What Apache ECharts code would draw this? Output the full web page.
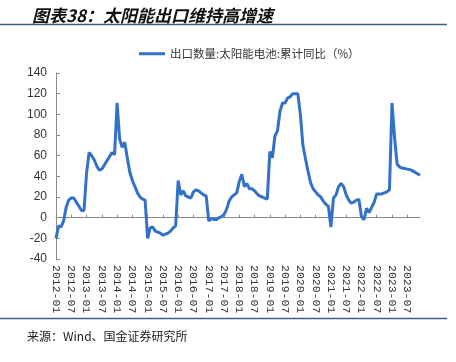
<!DOCTYPE html>
<html><head><meta charset="utf-8">
<script src="https://cdn.jsdelivr.net/npm/echarts/dist/echarts.min.js"></script>
<style>html,body{margin:0;padding:0;background:#fff}#c{width:456px;height:362px}</style>
</head><body><div id="c"></div>
<script>
const titleText = '图表38：太阳能出口维持高增速';
const sourceText = '来源：Wind、国金证券研究所';
const seriesName = '出口数量:太阳能电池:累计同比（%）';
const startYear = 2012, endYear = 2023;
const yTicks = {min: -40, max: 140, interval: 20};

// monthly values, cumulative YoY (%)
const v2012 = [-20, -8, -9, -3, 10, 17, 19, 19, 15, 11, 7, 7];
const v2013 = [43, 63, 60, 56, 50, 46, 47, 51, 55, 59, 63, 61];
const v2014 = [111, 76, 68, 73, 58, 44, 36, 30, 24, 20, 18, 17];
const v2015 = [-20, -10, -9, -13, -14, -15, -17, -16, -15, -13, -10, -8];
const v2016 = [36, 22, 26, 21, 20, 19, 25, 27, 26, 24, 22, 21];
const v2017 = [-3, -1, -1.5, -2, 0, 1, 3, 8, 16, 20, 22, 24];
const v2018 = [35, 42, 30, 33, 28, 28, 26, 23, 21, 20, 19, 18];
const v2019 = [64, 58, 79, 84, 103, 111, 111, 116, 117, 120, 120, 120];
const v2020 = [100, 70, 57, 45, 34, 28, 25, 22, 20, 16, 13, 11];
const v2021 = [-9, 19, 22, 30, 33, 30, 22, 17, 14, 15, 17, 17.5];
const v2022 = [1, -2, 9, 5, 10, 15, 23, 23, 23, 24, 25, 27];
const v2023 = [111, 78, 52, 49, 48, 47.5, 47, 46.5, 45.5, 44, 42.5, 41];

const values = [].concat(v2012, v2013, v2014, v2015, v2016, v2017, v2018, v2019, v2020, v2021, v2022, v2023);
const months = [];
for (let y = startYear; y <= endYear; y++) {
  for (let m = 1; m <= 12; m++) months.push(y + '-' + (m < 10 ? '0' + m : '' + m));
}

const chart = echarts.init(document.getElementById('c'));
const axisColor = '#8a8a8a';
chart.setOption({
  animation: false,
  backgroundColor: '#fff',
  title: {
    text: titleText, left: 27, top: 2,
    textStyle: {fontFamily: 'Noto Sans CJK SC', fontSize: 17, fontWeight: 'bold', fontStyle: 'italic', color: '#111'}
  },
  legend: {
    data: [seriesName], left: 134, top: 43,
    icon: 'rect', itemWidth: 26, itemHeight: 3,
    textStyle: {fontFamily: 'Noto Sans CJK SC', fontSize: 11.5, color: '#333'}
  },
  grid: {left: 56, right: 36, top: 73, bottom: 103},
  xAxis: [
    {
      type: 'category', data: months, boundaryGap: false,
      axisLine: {show: false, onZero: false}, axisTick: {show: false},
      axisLabel: {interval: 5, rotate: -90, margin: 6, fontSize: 11.5, fontFamily: 'Liberation Mono', color: '#333'}
    },
    {
      type: 'category', data: months, boundaryGap: false, position: 'top',
      axisLine: {show: true, onZero: true, lineStyle: {color: axisColor, width: 1}},
      axisTick: {show: true, interval: 5, length: 3, lineStyle: {color: axisColor}},
      axisLabel: {show: false}
    }
  ],
  yAxis: {
    type: 'value', min: yTicks.min, max: yTicks.max, interval: yTicks.interval,
    axisLine: {show: true, lineStyle: {color: axisColor}},
    axisTick: {show: true, inside: true, length: 4, lineStyle: {color: axisColor}},
    splitLine: {show: false},
    axisLabel: {fontSize: 12, fontFamily: 'Liberation Sans', color: '#333', margin: 9}
  },
  series: [{
    name: seriesName, type: 'line', data: values, xAxisIndex: 0,
    showSymbol: false, symbol: 'none',
    lineStyle: {width: 3, color: '#3172C8'}, itemStyle: {color: '#3172C8'}
  }],
  graphic: [
    {type: 'line', shape: {x1: 0, y1: 24.5, x2: 447, y2: 24.5}, style: {stroke: '#3E6085', lineWidth: 1.5}},
    {type: 'line', shape: {x1: 0, y1: 318.5, x2: 447, y2: 318.5}, style: {stroke: '#3E6085', lineWidth: 1.5}},
    {type: 'text', left: 27, top: 330, style: {text: sourceText, font: '12px "Noto Sans CJK SC"', fill: '#222'}}
  ]
});
</script>
</body></html>
